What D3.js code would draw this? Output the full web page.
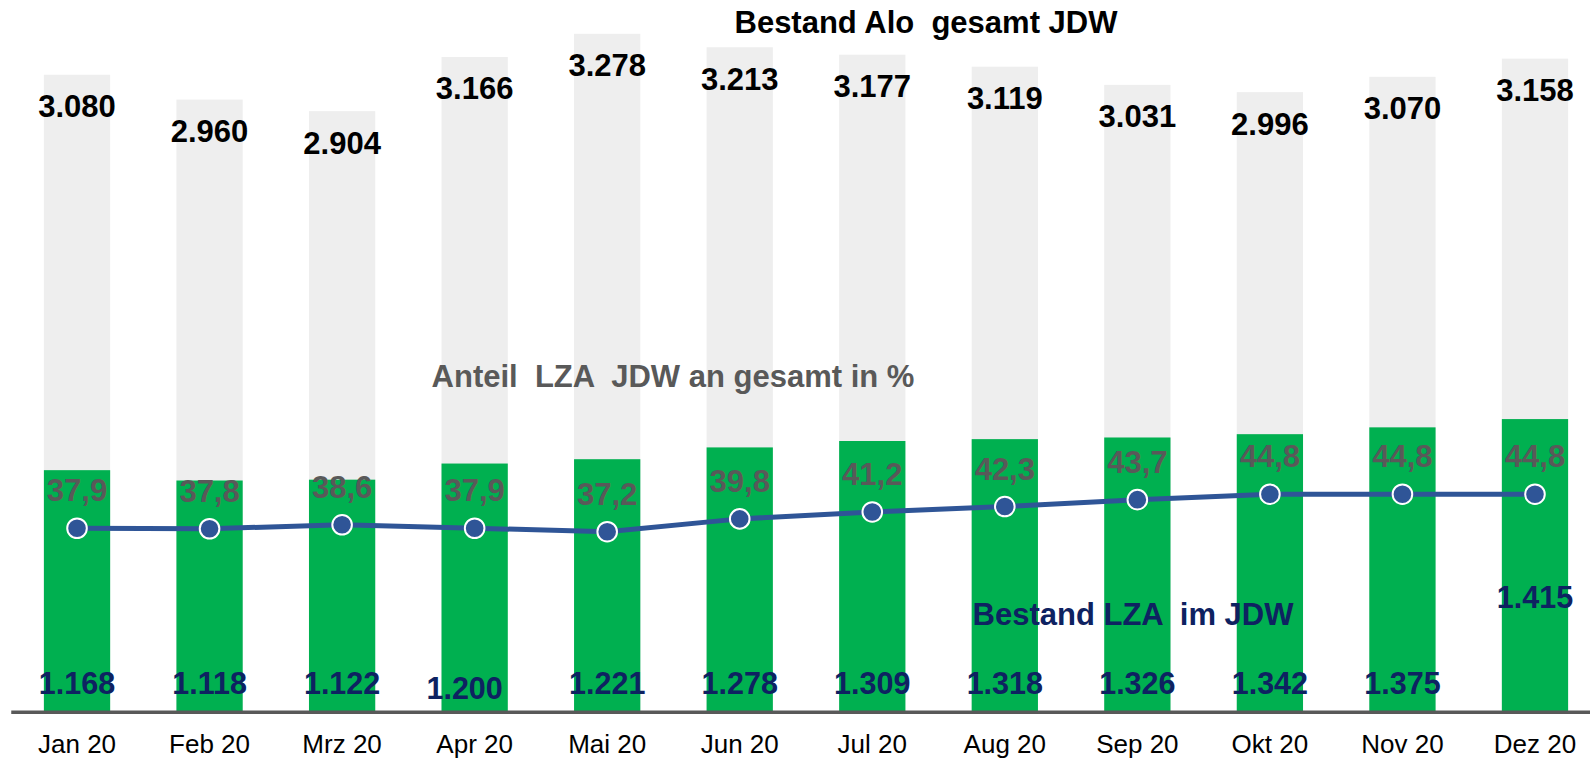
<!DOCTYPE html>
<html lang="de">
<head>
<meta charset="UTF-8">
<title>Bestand Alo gesamt JDW</title>
<script src="https://cdn.jsdelivr.net/npm/d3@7"></script>
<style>
  body { margin: 0; background: #fff; }
  text { font-family: "Liberation Sans", Arial, sans-serif; }
</style>
</head>
<body>
<div id="chart"></div>
<script>
// data
const months = ["Jan 20", "Feb 20", "Mrz 20", "Apr 20", "Mai 20", "Jun 20",
                "Jul 20", "Aug 20", "Sep 20", "Okt 20", "Nov 20", "Dez 20"];
const bestandGesamt = [3080, 2960, 2904, 3166, 3278, 3213, 3177, 3119, 3031, 2996, 3070, 3158];
const bestandLZA = [1168, 1118, 1122, 1200, 1221, 1278, 1309, 1318, 1326, 1342, 1375, 1415];
const anteilLZA = [37.9, 37.8, 38.6, 37.9, 37.2, 39.8, 41.2, 42.3, 43.7, 44.8, 44.8, 44.8];

// hand placed labels in the original
const lzaLabelShift = { "Apr 20": [-10, 5], "Dez 20": [0, -86] };

const width = 1590, height = 759;
const base = 711.7;

const de = d3.formatLocale({ decimal: ",", thousands: ".", grouping: [3], currency: ["", " €"] });
const fmtInt = de.format(",");
const fmtPct = de.format(".1f");

const svg = d3.select("#chart").append("svg")
    .attr("width", width)
    .attr("height", height);

const x = d3.scaleBand()
    .domain(months)
    .range([10.75, 1601.25])
    .paddingInner(0.5)
    .paddingOuter(0.25);

const y = d3.scaleLinear()
    .domain([0, 3441.5])
    .range([base, 0]);

// second axis for the share line (not shown)
const y2 = d3.scaleLinear()
    .domain([0, 100])
    .range([715.1, 222.1]);

// grey total bars
svg.append("g").selectAll("rect")
  .data(months)
  .join("rect")
    .attr("x", d => x(d))
    .attr("width", x.bandwidth())
    .attr("y", (d, i) => y(bestandGesamt[i]))
    .attr("height", (d, i) => y(0) - y(bestandGesamt[i]))
    .attr("fill", "#eeeeee");

// green LZA bars
svg.append("g").selectAll("rect")
  .data(months)
  .join("rect")
    .attr("x", d => x(d))
    .attr("width", x.bandwidth())
    .attr("y", (d, i) => y(bestandLZA[i]))
    .attr("height", (d, i) => y(0) - y(bestandLZA[i]))
    .attr("fill", "#00b050");

// x axis
const xAxis = svg.append("g")
    .attr("transform", `translate(0,${base})`)
    .call(d3.axisBottom(x).tickSize(0).tickSizeOuter(0));
xAxis.select(".domain")
    .attr("stroke", "#595959")
    .attr("stroke-width", 3.5);
xAxis.selectAll("text")
    .attr("y", 41.5)
    .attr("dy", null)
    .attr("fill", "#000")
    .style("font-family", "'Liberation Sans', Arial, sans-serif")
    .style("font-size", "26px");

// share line
const cx = d => x(d) + x.bandwidth() / 2;
const line = d3.line()
    .x(d => cx(d))
    .y((d, i) => y2(anteilLZA[i]));

svg.append("path")
    .datum(months)
    .attr("d", line)
    .attr("fill", "none")
    .attr("stroke", "#2f5597")
    .attr("stroke-width", 5);

svg.append("g").selectAll("circle")
  .data(months)
  .join("circle")
    .attr("cx", d => cx(d))
    .attr("cy", (d, i) => y2(anteilLZA[i]))
    .attr("r", 9.8)
    .attr("fill", "#2f5597")
    .attr("stroke", "#fff")
    .attr("stroke-width", 2);

// labels for totals
svg.append("g").selectAll("text")
  .data(months)
  .join("text")
    .attr("x", d => cx(d))
    .attr("y", (d, i) => y(bestandGesamt[i]) + 42.5)
    .attr("text-anchor", "middle")
    .attr("font-size", 31)
    .attr("font-weight", "bold")
    .attr("fill", "#000")
    .text((d, i) => fmtInt(bestandGesamt[i]));

// labels for share
svg.append("g").selectAll("text")
  .data(months)
  .join("text")
    .attr("x", d => cx(d))
    .attr("y", (d, i) => y2(anteilLZA[i]) - 27)
    .attr("text-anchor", "middle")
    .attr("font-size", 31)
    .attr("font-weight", "bold")
    .attr("fill", "#595959")
    .text((d, i) => fmtPct(anteilLZA[i]));

// labels for LZA
svg.append("g").selectAll("text")
  .data(months)
  .join("text")
    .attr("x", d => cx(d) + (lzaLabelShift[d] ? lzaLabelShift[d][0] : 0))
    .attr("y", d => base - 17.5 + (lzaLabelShift[d] ? lzaLabelShift[d][1] : 0))
    .attr("text-anchor", "middle")
    .attr("font-size", 30.5)
    .attr("font-weight", "bold")
    .attr("fill", "#0e2261")
    .text((d, i) => fmtInt(bestandLZA[i]));

// series names
svg.append("text")
    .attr("x", 926).attr("y", 33)
    .attr("text-anchor", "middle")
    .attr("font-size", 31)
    .attr("font-weight", "bold")
    .attr("fill", "#000")
    .attr("xml:space", "preserve")
    .text("Bestand Alo  gesamt JDW");

svg.append("text")
    .attr("x", 673).attr("y", 387)
    .attr("text-anchor", "middle")
    .attr("font-size", 31)
    .attr("font-weight", "bold")
    .attr("fill", "#595959")
    .attr("xml:space", "preserve")
    .text("Anteil  LZA  JDW an gesamt in %");

svg.append("text")
    .attr("x", 1133).attr("y", 625)
    .attr("text-anchor", "middle")
    .attr("font-size", 31)
    .attr("font-weight", "bold")
    .attr("fill", "#0e2261")
    .attr("xml:space", "preserve")
    .text("Bestand LZA  im JDW");
</script>
</body>
</html>
